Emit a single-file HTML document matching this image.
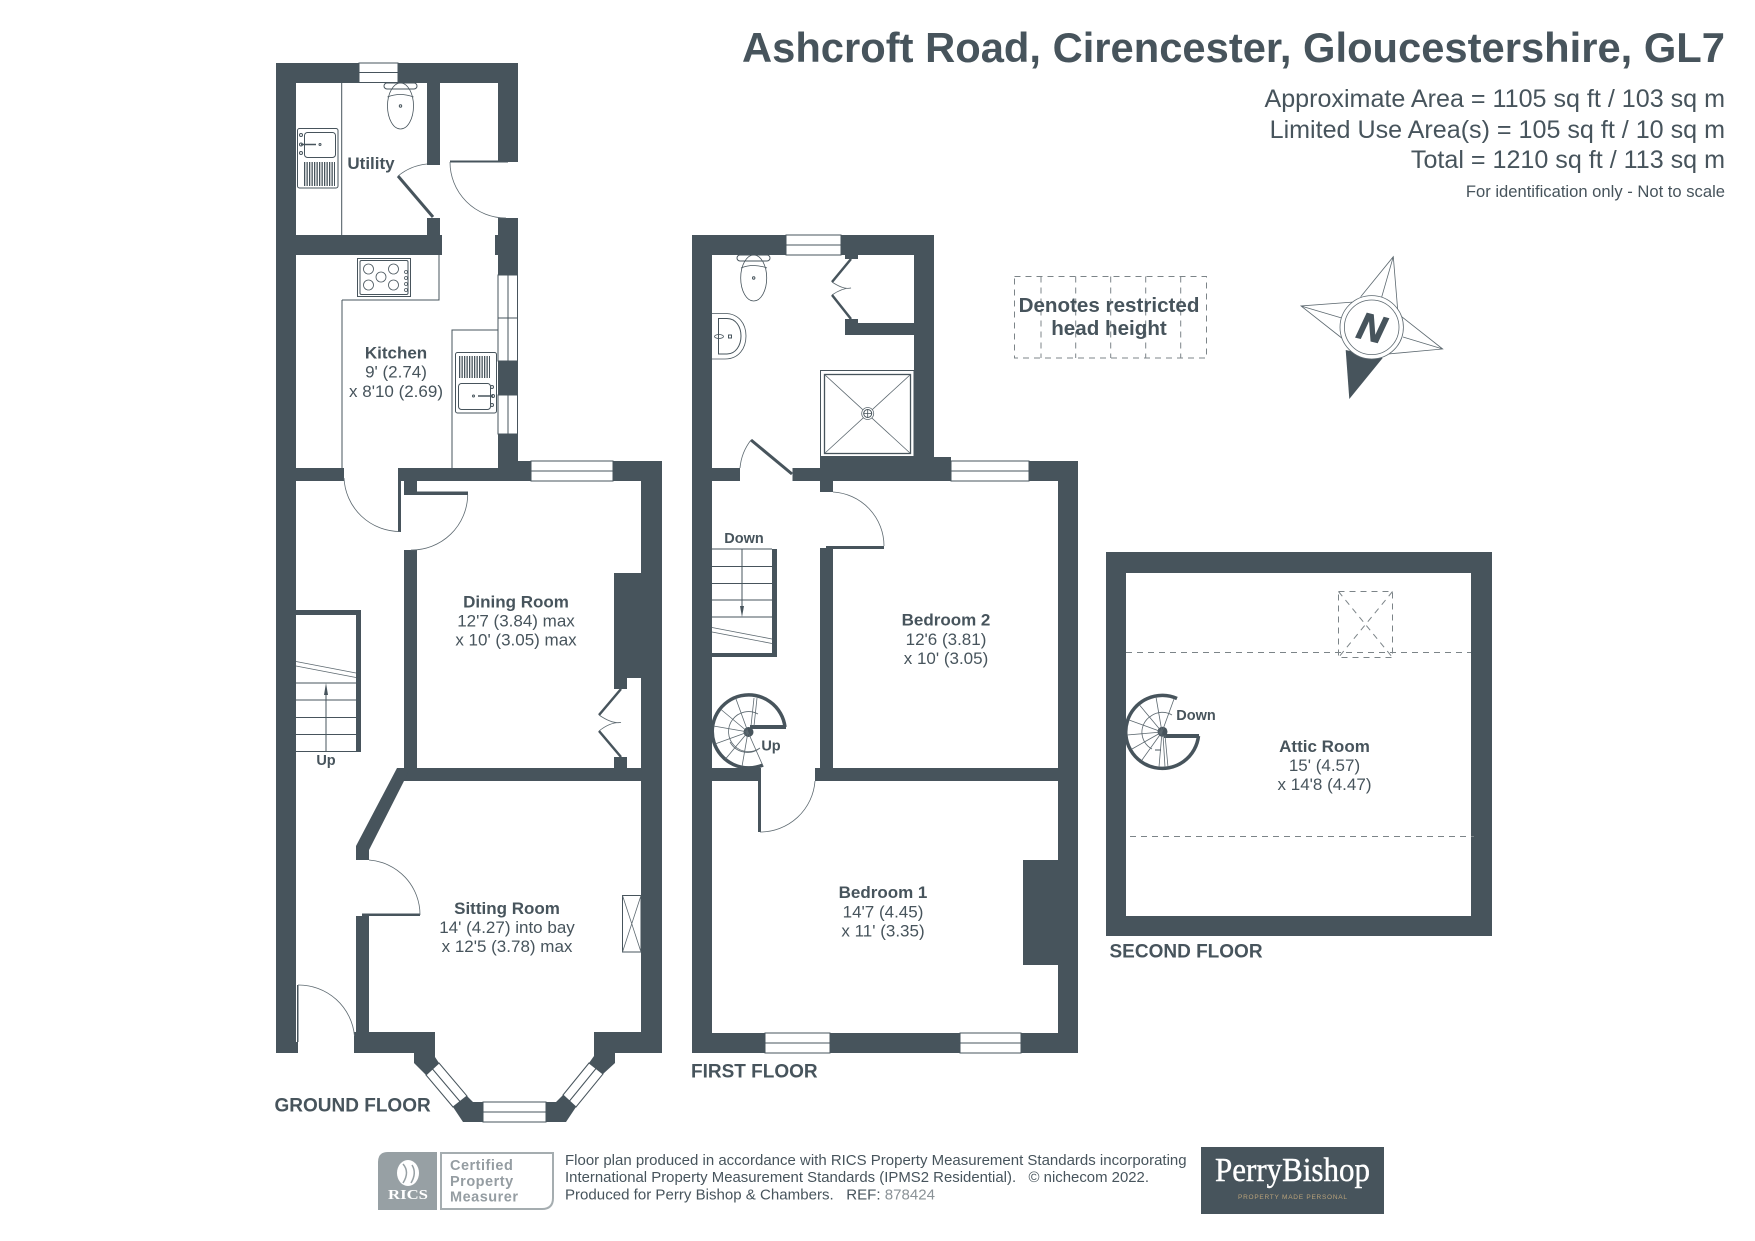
<!DOCTYPE html>
<html><head><meta charset="utf-8"><title>Ashcroft Road floor plan</title>
<style>
html,body{margin:0;padding:0;background:#fff}
svg{display:block}
text{font-family:"Liberation Sans",Arial,sans-serif;fill:#47545c}
.b{font-weight:bold;font-size:17px;text-anchor:middle}
.r{font-size:17px;text-anchor:middle}
.s{font-weight:bold;font-size:14.5px;text-anchor:middle}
.f{font-weight:bold;font-size:19px}
.h{font-size:25.1px;text-anchor:end}
.t{font-size:14.5px}
.w{fill:#47545c}
.l{fill:none;stroke:#47545c;stroke-width:1}
.a{fill:none;stroke:#5d6970;stroke-width:.8}
.d{fill:#47545c;stroke:none}
.win{fill:#fff;stroke:#47545c;stroke-width:1}
.dash{fill:none;stroke:#7c8488;stroke-width:1;stroke-dasharray:6 5}
</style></head><body>
<svg width="1755" height="1241" viewBox="0 0 1755 1241" xmlns="http://www.w3.org/2000/svg">
<rect width="1755" height="1241" fill="#fff"/>

<!-- HEADER -->
<text x="1725" y="62" text-anchor="end" font-weight="bold" font-size="42" textLength="983" lengthAdjust="spacingAndGlyphs">Ashcroft Road, Cirencester, Gloucestershire, GL7</text>
<text class="h" x="1725" y="107">Approximate Area = 1105 sq ft / 103 sq m</text>
<text class="h" x="1725" y="138">Limited Use Area(s) = 105 sq ft / 10 sq m</text>
<text class="h" x="1725" y="168">Total = 1210 sq ft / 113 sq m</text>
<text x="1725" y="197" text-anchor="end" font-size="16.6">For identification only - Not to scale</text>

<!-- GROUND FLOOR WALLS -->
<g class="w">
<rect x="276" y="63" width="20" height="990"/>
<rect x="276" y="63" width="242" height="20"/>
<rect x="498" y="63" width="20" height="99"/>
<rect x="427" y="83" width="13" height="82"/>
<rect x="427" y="218" width="13" height="17"/>
<rect x="296" y="235" width="146" height="20"/>
<rect x="498" y="218" width="20" height="57"/>
<rect x="495" y="235" width="3" height="20"/>
<rect x="498" y="361" width="20" height="34"/>
<rect x="498" y="434" width="20" height="47"/>
<rect x="296" y="468" width="48" height="13"/>
<rect x="399" y="468" width="263" height="13"/>
<rect x="518" y="461" width="144" height="20"/>
<rect x="641" y="461" width="21" height="592"/>
<rect x="398" y="468" width="3" height="64"/>
<rect x="404" y="481" width="13" height="12"/>
<rect x="404" y="491.5" width="64" height="3.5"/>
<rect x="404" y="550" width="13" height="218"/>
<rect x="397" y="768" width="244" height="13"/>
<polygon points="397,768 410,768 404,781 369,850 369,860 356,860 356,846"/>
<rect x="362" y="913.5" width="58" height="2.5"/>
<polygon points="356,916 369,916 369,1032 435,1032 435,1057 439,1063 426,1075 414,1063 414,1053 354,1053 354,1032 356,1032"/>
<rect x="296" y="1042" width="2" height="11"/>
<rect x="297" y="985" width="1.5" height="57"/>
<polygon points="453,1107 467,1096 473,1102 483,1102 483,1122 463,1122"/>
<polygon points="546,1102 556,1102 563,1095 576,1107 566,1122 546,1122"/>
<polygon points="589,1063 594,1056 594,1032 641,1032 662,1032 662,1053 615,1053 615,1063 603,1074"/>
<!-- chimney, stubs -->
<rect x="614" y="573" width="27" height="105"/>
<rect x="614" y="678" width="13" height="11"/>
<rect x="614" y="757" width="13" height="11"/>
<rect x="296" y="610" width="65" height="5"/>
<rect x="356" y="610" width="5" height="142"/>
</g>

<!-- ground windows -->
<g class="win">
<rect x="359" y="63" width="39" height="19.5"/><line x1="359" y1="72.5" x2="398" y2="72.5"/>
<rect x="498" y="275" width="19.5" height="86"/><line x1="508" y1="275" x2="508" y2="361"/><line x1="498" y1="318" x2="518" y2="318"/>
<rect x="498" y="395" width="19.5" height="39"/><line x1="508" y1="395" x2="508" y2="434"/>
<rect x="531" y="461" width="82" height="20"/><line x1="531" y1="471" x2="613" y2="471"/>
<rect x="483" y="1102" width="63" height="20"/><line x1="483" y1="1112" x2="546" y2="1112"/>
<polygon points="426,1075 439,1063 467,1096 453,1107"/><line x1="432.500" y1="1069" x2="460" y2="1101.500"/>
<polygon points="563,1095 576,1107 603,1074 589,1063"/><line x1="569.500" y1="1101" x2="596" y2="1068.500"/>
</g>

<!-- ground door bits -->
<rect class="d" x="450" y="160.500" width="58" height="2"/>
<path class="a" d="M450,162 A56,56 0 0 0 506,218"/>
<line x1="398" y1="176" x2="433" y2="217" stroke="#47545c" stroke-width="3"/>
<path class="a" d="M398,176 A54,54 0 0 1 427,164"/>
<path class="a" d="M344,478 A56,56 0 0 0 400,531.500"/>
<path class="a" d="M467.700,495 A56,56 0 0 1 411,550"/>
<path class="a" d="M369,860 A55,55 0 0 1 420,915"/>
<path class="a" d="M298,985 A56,56 0 0 1 354.500,1036"/>
<!-- bifold dining -->
<path d="M621,689 L599,715" stroke="#47545c" stroke-width="2.500" fill="none"/>
<path class="a" d="M599,715 Q612,724 621,722.500 Q610,722 599,731"/>
<path d="M599,731 L621,757" stroke="#47545c" stroke-width="2.500" fill="none"/>
<!-- fireplace -->
<g class="l"><rect x="622.500" y="895.500" width="18.500" height="56.500"/></g>
<path class="a" d="M622.500,895.500 L641,952 M641,895.500 L622.500,952"/>

<!-- stairs ground -->
<path class="l" d="M296,683 H356 M296,700 H356 M296,717.500 H356 M296,734.500 H356 M296,751.500 H356 M326,751 V690"/>
<path class="a" d="M296,661.500 L356,673 M296,666 L356,677.500"/>
<polygon class="d" points="326,683 328,695 324,695"/>

<!-- utility fittings -->
<path class="l" d="M341.700,83 V235 M342,300 V468 M342,300 H439 V255 M452,468 V330 H498"/>
<rect class="win" x="384" y="83" width="33" height="6" rx="3" stroke-width=".8"/>
<ellipse class="l" cx="400.500" cy="106" rx="13" ry="23" style="stroke-width:.8"/>
<path class="l" d="M387.500,97 Q400,92 413.500,97" style="stroke-width:.8"/>
<circle cx="400.500" cy="106" r="1.200" class="l"/>
<rect class="l" x="297.500" y="128.500" width="40.500" height="59.500" rx="2"/>
<rect class="l" x="304.500" y="132.500" width="31" height="25" rx="3"/>
<line x1="304" y1="174" x2="335" y2="174" stroke="#47545c" stroke-width="24" stroke-dasharray="1.300 1.200"/>
<line x1="301" y1="144.500" x2="316" y2="144.500" stroke="#47545c" stroke-width="1.500"/>
<circle class="l" cx="320" cy="144.500" r="1"/><circle class="l" cx="301" cy="144.500" r="1.500"/><circle class="l" cx="301" cy="135" r="1.500"/><circle class="l" cx="301" cy="153" r="1.500"/>
<!-- hob -->
<rect class="l" x="357.500" y="258.500" width="53" height="38"/>
<rect class="l" x="360" y="260.500" width="48" height="34" rx="1.500"/>
<g class="l" style="stroke-width:.8">
<circle cx="368.500" cy="269" r="5"/><circle cx="393.500" cy="269" r="5"/><circle cx="381" cy="277" r="5"/><circle cx="368.500" cy="285" r="5"/><circle cx="393.500" cy="285" r="5"/>
<circle cx="406" cy="272" r="1.500"/><circle cx="406" cy="278" r="1.500"/><circle cx="406" cy="284" r="1.500"/><circle cx="406" cy="290" r="1.500"/>
</g>
<!-- kitchen sink -->
<rect class="l" x="455.500" y="352.500" width="41" height="60.500" rx="2"/>
<line x1="459" y1="367" x2="490" y2="367" stroke="#47545c" stroke-width="22" stroke-dasharray="1.300 1.200"/>
<rect class="l" x="458.500" y="383.500" width="32" height="26" rx="3"/>
<line x1="478" y1="396" x2="493" y2="396" stroke="#47545c" stroke-width="1.500"/>
<circle class="l" cx="473.500" cy="396" r="1"/><circle class="l" cx="493" cy="396" r="1.500"/><circle class="l" cx="492" cy="387" r="1.500"/><circle class="l" cx="492" cy="405" r="1.500"/>

<!-- FIRST FLOOR WALLS -->
<g class="w">
<rect x="692" y="235" width="20" height="818"/>
<rect x="692" y="235" width="242" height="20"/>
<rect x="914" y="235" width="20" height="246"/>
<rect x="845" y="255" width="13" height="4"/>
<rect x="845" y="319" width="13" height="16"/>
<rect x="845" y="323" width="69" height="12"/>
<rect x="712" y="468" width="28" height="13"/>
<rect x="792.500" y="468" width="28" height="13"/>
<rect x="820" y="457" width="131" height="24"/>
<rect x="934" y="461" width="144" height="20"/>
<rect x="820" y="481" width="13" height="11"/>
<rect x="826" y="546" width="58" height="3"/>
<rect x="820" y="548" width="13" height="220"/>
<rect x="815" y="768" width="243" height="13"/>
<rect x="712" y="768" width="47" height="13"/>
<rect x="758" y="768" width="3" height="64"/>
<rect x="1058" y="461" width="20" height="592"/>
<rect x="1023" y="860" width="35" height="105"/>
<rect x="692" y="1033" width="386" height="20"/>
<rect x="772" y="549" width="5" height="108"/>
<rect x="712" y="653" width="65" height="4"/>
</g>
<g class="win">
<rect x="786" y="235" width="55" height="20"/><line x1="786" y1="245" x2="841" y2="245"/>
<rect x="951" y="461" width="78" height="20"/><line x1="951" y1="471" x2="1029" y2="471"/>
<rect x="765" y="1033" width="65" height="20"/><line x1="765" y1="1043" x2="830" y2="1043"/>
<rect x="960" y="1033" width="61" height="20"/><line x1="960" y1="1043" x2="1021" y2="1043"/>
</g>
<!-- first doors -->
<line x1="751" y1="440" x2="792" y2="474" stroke="#47545c" stroke-width="3"/>
<path class="a" d="M751,440 A53,53 0 0 0 740,468"/>
<path class="a" d="M833,492 A54,54 0 0 1 884,546"/>
<path class="a" d="M815,781 A55,55 0 0 1 760,832"/>
<path d="M851,259 L832,282" stroke="#47545c" stroke-width="2.500" fill="none"/>
<path class="a" d="M832,282 Q844,290 851,288 Q842,288 832,295"/>
<path d="M832,295 L851,319" stroke="#47545c" stroke-width="2.500" fill="none"/>
<!-- toilet -->
<rect class="win" x="737" y="255" width="33" height="6" rx="3" stroke-width=".8"/>
<ellipse class="l" cx="753.700" cy="278" rx="13" ry="23" style="stroke-width:.8"/>
<path class="l" d="M741,268 Q753,263 767,268" style="stroke-width:.8"/>
<circle class="l" cx="753.700" cy="278" r="1.200"/>
<!-- basin -->
<path class="l" d="M712,313.500 H725 C739,313.500 746,324 746,336 C746,348 739,359 725,359 H712" style="stroke-width:.8"/>
<path class="l" d="M718.500,318.500 H727 C736,318.500 741,327 741,336 C741,345 736,354 727,354 H718.500 Z"/>
<ellipse class="l" cx="719" cy="336.500" rx="4.500" ry="2" style="stroke-width:.8"/>
<rect class="l" x="728.500" y="335" width="3" height="3"/>
<!-- shower -->
<rect class="l" x="820.500" y="370.500" width="93.500" height="86"/>
<rect x="824.500" y="374.500" width="86" height="79" fill="none" stroke="#47545c" stroke-width="1.300"/>
<path class="a" d="M824.500,374.500 L910.500,453.500 M910.500,374.500 L824.500,453.500"/>
<circle cx="867.700" cy="413.500" r="6" fill="#fff" stroke="#5d6970" stroke-width=".8"/>
<circle cx="867.700" cy="413.500" r="4" fill="none" stroke="#47545c" stroke-width="1"/>
<path class="l" d="M863.700,413.500 H871.700 M867.700,409.500 V417.500" style="stroke-width:.8"/>
<!-- stairs first -->
<path class="l" d="M712,549 H772 M712,566.500 H772 M712,583.500 H772 M712,600 H772 M712,617 H772 M742,549 V608"/>
<path class="a" d="M712,627.500 L772,639 M712,632 L772,643.500"/>
<polygon class="d" points="742,617 744,606 740,606"/>
<!-- spiral first -->
<path d="M785,727 A36.500,36.500 0 1 0 763,765" fill="none" stroke="#47545c" stroke-width="3.500"/>
<rect class="d" x="750" y="725" width="36" height="4"/>
<circle class="d" cx="748.500" cy="732" r="5"/>
<path class="a" d="M748,732 L763,766 M748,732 L742,766.500 M748,732 L725.500,759 M748,732 L715,744 M748,732 L713.500,726 M748,732 L721,709.500 M748,732 L736,699 M751,726 L754,698 M754,726 L757,698"/>
<path class="a" d="M760,748 A20,20 0 1 1 758,714 M730,742 A20,20 0 0 0 760,748"/>

<!-- SECOND FLOOR -->
<path class="w" fill-rule="evenodd" d="M1106,552 H1492 V936 H1106 Z M1126,573 V916 H1471 V573 Z"/>
<line class="dash" x1="1126" y1="652.500" x2="1471" y2="652.500"/>
<line class="dash" x1="1130" y1="836.500" x2="1474" y2="836.500"/>
<rect class="dash" x="1338.500" y="591.500" width="54" height="66"/>
<path class="dash" d="M1338.500,591.500 L1392.500,657.500 M1392.500,591.500 L1338.500,657.500"/>
<path d="M1198.500,736 A36.500,36.500 0 1 1 1177,698.500" fill="none" stroke="#47545c" stroke-width="3.500"/>
<rect class="d" x="1164" y="734" width="35" height="4"/>
<circle class="d" cx="1162.500" cy="731.700" r="5"/>
<path class="a" d="M1162,732 L1159,767 M1162,732 L1142,760 M1162,732 L1132,749 M1162,732 L1127,735 M1162,732 L1129,720 M1162,732 L1139.500,705 M1162,732 L1156,697 M1162,732 L1174,699 M1163,735 L1165,767 M1165,735 L1168,767"/>
<path class="a" d="M1152,749 A19,19 0 0 1 1151,716 A19,19 0 0 1 1172,715"/>
<rect class="d" x="1155" y="749.500" width="6" height="1"/>

<!-- Legend box -->
<rect class="dash" x="1014.500" y="276.500" width="192" height="81.500"/>
<path class="dash" d="M1041,276.500 V358 M1075.700,276.500 V358 M1110.700,276.500 V358 M1145.700,276.500 V358 M1180.700,276.500 V358"/>
<text x="1109" y="312" text-anchor="middle" font-weight="bold" font-size="20.600">Denotes restricted</text>
<text x="1109" y="335" text-anchor="middle" font-weight="bold" font-size="20.600">head height</text>

<!-- Compass -->
<polygon class="d" points="1345.700,350 1349.300,399 1382.700,358"/>
<g fill="none" stroke="#5d6970" stroke-width=".8">
<path d="M1360.700,296.700 L1393.300,256.700 L1397.700,310 M1393.300,256.700 L1381.700,297"/>
<path d="M1354,302 L1301,306 L1343,339 M1301,306 L1341.700,318"/>
<path d="M1401.700,316.700 L1442.700,349 L1388,354 M1442.700,349 L1403,337"/>
</g>
<circle cx="1371.700" cy="327.300" r="31.700" fill="#fff" stroke="#5d6970" stroke-width=".8"/>
<circle cx="1371.700" cy="327.300" r="27.300" fill="#fff" stroke="#5d6970" stroke-width=".8"/>
<text x="0" y="0" transform="translate(1371.700,327.300) rotate(14)" dy="13.500" text-anchor="middle" font-weight="bold" font-style="italic" font-size="38" stroke="#47545c" stroke-width="1">N</text>

<!-- LABELS -->
<text class="b" x="371" y="169">Utility</text>
<text class="b" x="396" y="358.500">Kitchen</text>
<text class="r" x="396" y="377.500">9' (2.74)</text>
<text class="r" x="396" y="397">x 8'10 (2.69)</text>
<text class="b" x="516" y="607.500">Dining Room</text>
<text class="r" x="516" y="626.500">12'7 (3.84) max</text>
<text class="r" x="516" y="645.500">x 10' (3.05) max</text>
<text class="b" x="507" y="914">Sitting Room</text>
<text class="r" x="507" y="933">14' (4.27) into bay</text>
<text class="r" x="507" y="952">x 12'5 (3.78) max</text>
<text class="s" x="326" y="765">Up</text>
<text class="f" x="274.500" y="1111.500">GROUND FLOOR</text>

<text class="s" x="744" y="543">Down</text>
<text class="s" x="771" y="750.500">Up</text>
<text class="b" x="946" y="625.500">Bedroom 2</text>
<text class="r" x="946" y="645">12'6 (3.81)</text>
<text class="r" x="946" y="664">x 10' (3.05)</text>
<text class="b" x="883" y="898">Bedroom 1</text>
<text class="r" x="883" y="917.500">14'7 (4.45)</text>
<text class="r" x="883" y="936.500">x 11' (3.35)</text>
<text class="f" x="691" y="1077.500">FIRST FLOOR</text>

<text class="s" x="1196" y="720">Down</text>
<text class="b" x="1324.500" y="752">Attic Room</text>
<text class="r" x="1324.500" y="771">15' (4.57)</text>
<text class="r" x="1324.500" y="790">x 14'8 (4.47)</text>
<text class="f" x="1109.500" y="957.500">SECOND FLOOR</text>

<!-- FOOTER -->
<path d="M388,1152 H437 V1210 H378 V1162 Q378,1152 388,1152 Z" fill="#97a0a4"/>
<path d="M441,1153 H553 V1198 Q553,1209 542,1209 H441 Z" fill="none" stroke="#a5adb0" stroke-width="2"/>
<text x="408" y="1199" text-anchor="middle" font-weight="bold" font-size="13.500" textLength="40" lengthAdjust="spacingAndGlyphs" style="fill:#fff;font-family:'Liberation Serif',serif">RICS</text>
<ellipse cx="408" cy="1173" rx="11" ry="13" fill="#fff"/>
<path d="M403,1164 Q410,1172 403,1183 M412,1165 Q417,1173 411,1183" fill="none" stroke="#97a0a4" stroke-width="1.500"/>
<text x="450" y="1170" font-weight="bold" font-size="14.500" letter-spacing=".5" style="fill:#959da2">Certified</text>
<text x="450" y="1186" font-weight="bold" font-size="14.500" letter-spacing=".5" style="fill:#959da2">Property</text>
<text x="450" y="1201.500" font-weight="bold" font-size="14.500" letter-spacing=".5" style="fill:#959da2">Measurer</text>

<text class="t" x="565" y="1165" textLength="621.600" lengthAdjust="spacingAndGlyphs">Floor plan produced in accordance with RICS Property Measurement Standards incorporating</text>
<text class="t" x="565" y="1182" textLength="584" lengthAdjust="spacingAndGlyphs">International Property Measurement Standards (IPMS2 Residential). &#160; © nichecom 2022.</text>
<text class="t" x="565" y="1199.500" textLength="370" lengthAdjust="spacingAndGlyphs">Produced for Perry Bishop &amp; Chambers. &#160; REF: <tspan style="fill:#8a9297">878424</tspan></text>

<rect x="1201" y="1147" width="183" height="67" fill="#47545c"/>
<text x="1292.500" y="1181" text-anchor="middle" font-size="34" textLength="155" lengthAdjust="spacingAndGlyphs" stroke="#fff" stroke-width=".4" style="fill:#fff;font-family:'Liberation Serif',serif">PerryBishop</text>
<text x="1292.500" y="1199" text-anchor="middle" font-size="6.500" textLength="109" style="fill:#b9a27a">PROPERTY MADE PERSONAL</text>
</svg>
</body></html>
